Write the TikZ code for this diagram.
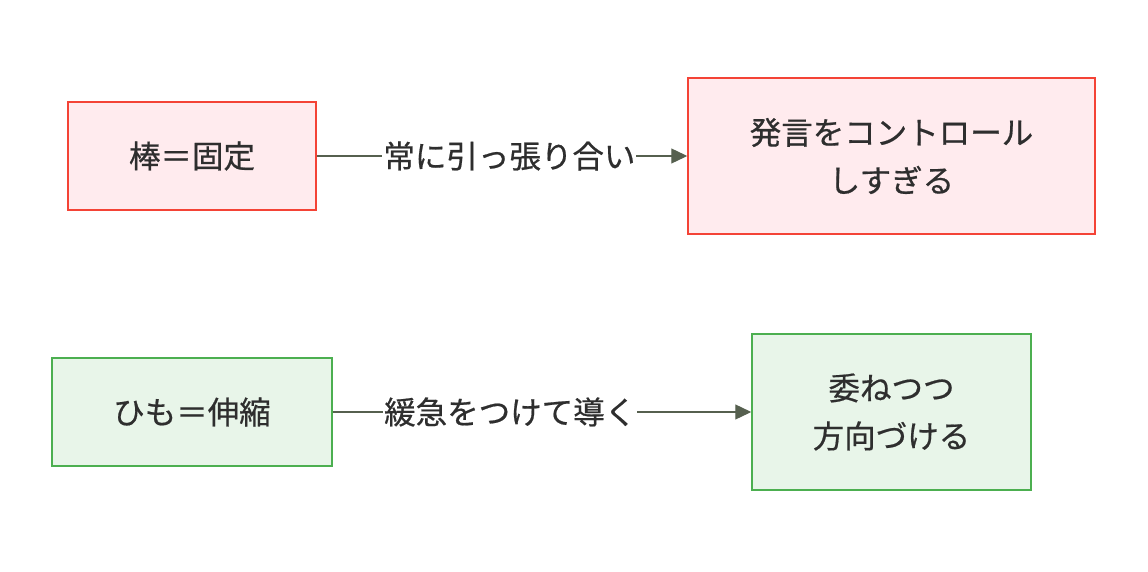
\documentclass[tikz,border=0pt]{standalone}
\usepackage{fontspec}
\setmainfont{Noto Sans CJK JP}[FakeBold=0.6]
\usetikzlibrary{arrows.meta}
\definecolor{redline}{HTML}{F44336}
\definecolor{redfill}{HTML}{FFEBEE}
\definecolor{greenline}{HTML}{4CAF50}
\definecolor{greenfill}{HTML}{E8F5E9}
\definecolor{arrowc}{HTML}{56604F}
\definecolor{txt}{HTML}{2E2E2E}
\tikzset{
  redbox/.style={draw=redline, fill=redfill, line width=1.5pt, align=center, text=txt, inner sep=0pt, font=\fontsize{31.5}{48}\selectfont},
  greenbox/.style={draw=greenline, fill=greenfill, line width=1.5pt, align=center, text=txt, inner sep=0pt, font=\fontsize{31.5}{48}\selectfont},
  conn/.style={draw=arrowc, line width=1.3pt, -{Triangle[length=16pt,width=15pt]}},
  lbl/.style={fill=white, text=txt, inner sep=1pt, font=\fontsize{31.5}{36}\selectfont}
}
\begin{document}
\begin{tikzpicture}[x=1pt,y=-1pt]
\useasboundingbox (0,0) rectangle (1148,572);
\node[redbox, minimum width=248pt, minimum height=108pt] (a) at (192,156) {棒＝固定};
\node[redbox, minimum width=407pt, minimum height=156pt] (b) at (891.5,156) {発言をコントロール\\しすぎる};
\node[greenbox, minimum width=280pt, minimum height=108pt] (c) at (192,412) {ひも＝伸縮};
\node[greenbox, minimum width=279pt, minimum height=156pt] (d) at (891.5,412) {委ねつつ\\方向づける};
\draw[conn] (a.east) -- node[lbl, pos=0.52] {常に引っ張り合い} (b.west);
\draw[conn] (c.east) -- node[lbl, pos=0.424] {緩急をつけて導く} (d.west);
\end{tikzpicture}
\end{document}
